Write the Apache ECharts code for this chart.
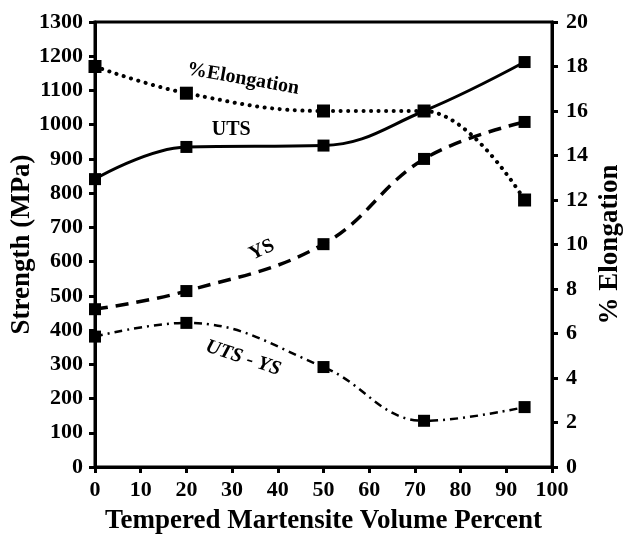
<!DOCTYPE html>
<html><head><meta charset="utf-8">
<script src="https://cdn.jsdelivr.net/npm/echarts@6/dist/echarts.min.js"></script>
<style>html,body{margin:0;padding:0;background:#fff}#c{width:627px;height:534px}</style>
</head><body><div id="c"></div>
<script>
var xValues = [0, 20, 50, 72, 94];
var uts = [841, 935, 939, 1040, 1183];
var ys = [461, 514, 651, 900, 1008];
var utsMinusYs = [381, 421, 292, 135, 175];
var elongation = [18, 16.8, 16, 16, 12];
var xTitle = 'Tempered Martensite Volume Percent';
var yLeftTitle = 'Strength (MPa)';
var yRightTitle = '% Elongation';

function pairs(xs, ys) { return xs.map(function (x, i) { return [x, ys[i]]; }); }
var FONT = '"Liberation Serif", "Times New Roman", serif';
var tickLabel = { color: '#000', fontFamily: FONT, fontWeight: 'bold', fontSize: 22, formatter: function (v) { return String(v); } };
var titleStyle = { color: '#000', fontFamily: FONT, fontWeight: 'bold', fontSize: 27 };
var axisLine = { show: true, lineStyle: { color: '#000', width: 3 } };
var axisTick = { show: true, inside: false, length: 6, lineStyle: { color: '#000', width: 3 } };
function note(text, x, y, rot, italic) {
  return {
    symbol: 'circle', symbolSize: 1, silent: true,
    itemStyle: { color: 'rgba(0,0,0,0)' },
    data: [{ coord: [x, y], value: text }],
    label: { show: true, position: 'inside', formatter: text, rotate: rot, color: '#000',
      fontFamily: FONT, fontWeight: 'bold', fontSize: 20, fontStyle: italic ? 'italic' : 'normal' }
  };
}
var chart = echarts.init(document.getElementById('c'));
chart.setOption({
  animation: false,
  grid: { left: 95, right: 75, top: 22, bottom: 67, containLabel: false, outerBoundsMode: 'none',
    show: true, borderColor: '#000', borderWidth: 3 },
  xAxis: { type: 'value', min: 0, max: 100, interval: 10, name: xTitle, nameLocation: 'middle', nameGap: 41, nameMoveOverlap: false,
    nameTextStyle: titleStyle,
    axisLine: axisLine, axisTick: axisTick, axisLabel: Object.assign({ margin: 12 }, tickLabel), splitLine: { show: false } },
  yAxis: [
    { type: 'value', min: 0, max: 1300, interval: 100, position: 'left', name: yLeftTitle, nameLocation: 'middle', nameGap: 59, nameRotate: 90, nameMoveOverlap: false,
      nameTextStyle: titleStyle,
      axisLine: axisLine, axisTick: axisTick, axisLabel: Object.assign({ margin: 12 }, tickLabel), splitLine: { show: false } },
    { type: 'value', min: 0, max: 20, interval: 2, position: 'right', name: yRightTitle, nameLocation: 'middle', nameGap: 45, nameRotate: 90, nameMoveOverlap: false,
      nameTextStyle: titleStyle,
      axisLine: axisLine, axisTick: axisTick, axisLabel: Object.assign({ margin: 14 }, tickLabel), splitLine: { show: false } }
  ],
  series: [
    { name: 'UTS', type: 'line', yAxisIndex: 0, data: pairs(xValues, uts), smooth: 0.4, symbol: 'rect', symbolSize: 12,
      itemStyle: { color: '#000' }, lineStyle: { color: '#000', width: 3, type: 'solid' }, markPoint: note('UTS', 29.8, 984, 0, false) },
    { name: 'YS', type: 'line', yAxisIndex: 0, data: pairs(xValues, ys), smooth: 0.4, symbol: 'rect', symbolSize: 12,
      itemStyle: { color: '#000' }, lineStyle: { color: '#000', width: 3.5, type: [13, 8] }, markPoint: note('YS', 36.5, 634, 25, false) },
    { name: 'UTS - YS', type: 'line', yAxisIndex: 0, data: pairs(xValues, utsMinusYs), smooth: 0.4, symbol: 'rect', symbolSize: 12,
      itemStyle: { color: '#000' }, lineStyle: { color: '#000', width: 2.5, type: [8, 5, 2, 5] }, markPoint: note('UTS - YS', 32.4, 318, -18, true) },
    { name: '%Elongation', type: 'line', yAxisIndex: 1, data: pairs(xValues, elongation), smooth: 0.4, symbol: 'rect', symbolSize: 13,
      itemStyle: { color: '#000' }, lineStyle: { color: '#000', width: 4, type: [0.1, 7.5], cap: 'round' }, markPoint: note('%Elongation', 32.4, 17.44, -10, false) }
  ]
});
</script></body></html>
